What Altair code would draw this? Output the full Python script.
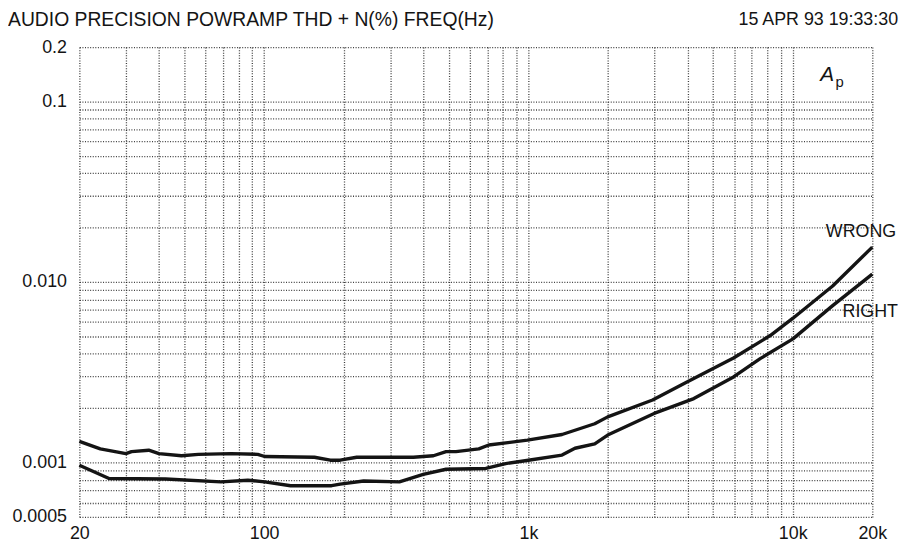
import altair as alt
import pandas as pd

# ---- data ----
wrong_freq = [20, 24, 30, 31.5, 36.6, 40, 48.7, 56.4, 75, 94.6, 100.5, 155, 178, 194, 224, 274,
              367, 437, 488, 532, 649, 708, 991, 1340, 1782, 1995, 2950, 3980, 5970, 8220, 10020, 14160, 20000]
wrong_thd = [0.00131, 0.00119, 0.00112, 0.00115, 0.00117, 0.00112, 0.00109, 0.00111, 0.00112, 0.00111,
             0.00108, 0.00107, 0.00103, 0.00103, 0.00107, 0.00107, 0.00107, 0.00109, 0.00115, 0.00115,
             0.00119, 0.00125, 0.00133, 0.00143, 0.00164, 0.00179, 0.00222, 0.00279, 0.00379, 0.00505,
             0.0063, 0.0095, 0.0156]

right_freq = [20, 25.9, 42.4, 68.7, 86.8, 100.5, 126, 180, 194, 238, 325, 400, 488, 690, 820, 1000,
              1340, 1500, 1782, 1995, 2990, 4225, 5970, 7530, 10020, 14160, 20000]
right_thd = [0.000966, 0.000816, 0.000811, 0.000782, 0.000798, 0.000782, 0.000744, 0.000744, 0.00076,
             0.00079, 0.000782, 0.000859, 0.000918, 0.000927, 0.000987, 0.00103, 0.00110, 0.00120,
             0.00127, 0.00142, 0.00187, 0.00226, 0.00298, 0.00376, 0.00484, 0.0074, 0.01106]

x_grid = [20, 30, 40, 50, 60, 70, 80, 90, 100, 200, 300, 400, 500, 600, 700, 800, 900,
          1000, 2000, 3000, 4000, 5000, 6000, 7000, 8000, 9000, 10000, 20000]
x_label_vals = [20, 100, 1000, 10000, 20000]
x_label_txt = ["20", "100", "1k", "10k", "20k"]

y_grid = [0.0005, 0.0006, 0.0007, 0.0008, 0.0009,
          0.001, 0.002, 0.003, 0.004, 0.005, 0.006, 0.007, 0.008, 0.009,
          0.01, 0.02, 0.03, 0.04, 0.05, 0.06, 0.07, 0.08, 0.09,
          0.1, 0.2]
y_label_vals = [0.2, 0.1, 0.01, 0.001, 0.0005]
y_label_txt = ["0.2", "0.1", "0.010", "0.001", "0.0005"]

curve_names = ["WRONG", "RIGHT"]
curve_label_freq = [13340, 15430]
curve_label_thd = [0.0189, 0.0068]

header_left = "AUDIO PRECISION POWRAMP THD + N(%) FREQ(Hz)"
header_right = "15 APR 93 19:33:30"

FONT = "Liberation Sans"
INK = "#141414"


def label_expr(vals, txts):
    parts = [f"datum.value == {v} ? '{t}'" for v, t in zip(vals, txts)]
    return " : ".join(parts) + " : ''"


df = pd.concat([
    pd.DataFrame({"freq": wrong_freq, "thd": wrong_thd, "series": "WRONG"}),
    pd.DataFrame({"freq": right_freq, "thd": right_thd, "series": "RIGHT"}),
])

xscale = alt.Scale(type="log", domain=[20, 20000], nice=False)
yscale = alt.Scale(type="log", domain=[0.0005, 0.2], nice=False)

grid_style = dict(grid=True, ticks=False, domain=False, gridColor="#1c1c1c",
                  gridDash=[1, 1.6], gridWidth=1.3, gridOpacity=0.85,
                  labelOverlap=False, title=None, labelFont=FONT, labelFontSize=18,
                  labelColor=INK)

x_enc = alt.X("freq:Q", scale=xscale,
              axis=alt.Axis(values=x_grid, labelExpr=label_expr(x_label_vals, x_label_txt),
                            labelPadding=8, labelFlush=False, **grid_style))
y_enc = alt.Y("thd:Q", scale=yscale,
              axis=alt.Axis(values=y_grid, labelExpr=label_expr(y_label_vals, y_label_txt),
                            labelPadding=13, **grid_style))

lines = alt.Chart(df).mark_line(strokeWidth=3.4, color=INK, strokeJoin="round").encode(
    x=x_enc, y=y_enc, detail="series:N")

lab_df = pd.DataFrame({"freq": curve_label_freq, "thd": curve_label_thd, "name": curve_names})
labels = alt.Chart(lab_df).mark_text(align="left", baseline="middle", font=FONT,
                                     fontSize=18, color=INK).encode(
    x=x_enc, y=y_enc, text="name:N")

ap_df = pd.DataFrame({"freq": [12700], "thd": [0.14], "t": ["A"]})
ap_a = alt.Chart(ap_df).mark_text(align="left", baseline="middle", font=FONT, fontSize=21,
                                  fontStyle="italic", color=INK).encode(
    x=x_enc, y=y_enc, text="t:N")
ap_p_df = pd.DataFrame({"freq": [14500], "thd": [0.128], "t": ["p"]})
ap_p = alt.Chart(ap_p_df).mark_text(align="left", baseline="middle", font=FONT, fontSize=15,
                                    color=INK).encode(
    x=x_enc, y=y_enc, text="t:N")

hdr_l = alt.Chart(pd.DataFrame({"t": [header_left]})).mark_text(
    align="left", baseline="middle", font=FONT, fontSize=19.5, color=INK).encode(
    x=alt.value(-72), y=alt.value(-27), text="t:N")
hdr_r = alt.Chart(pd.DataFrame({"t": [header_right]})).mark_text(
    align="right", baseline="middle", font=FONT, fontSize=18, color=INK).encode(
    x=alt.value(826), y=alt.value(-27), text="t:N")

chart = alt.layer(lines, labels, ap_a, ap_p, hdr_l, hdr_r).properties(
    width=800, height=474,
    autosize=alt.AutoSizeParams(type="none"),
    padding={"left": 72, "top": 37, "right": 34, "bottom": 31},
    background="white",
).configure_view(stroke=None)

chart.save("out.html", embed_options={"renderer": "svg", "actions": False})
